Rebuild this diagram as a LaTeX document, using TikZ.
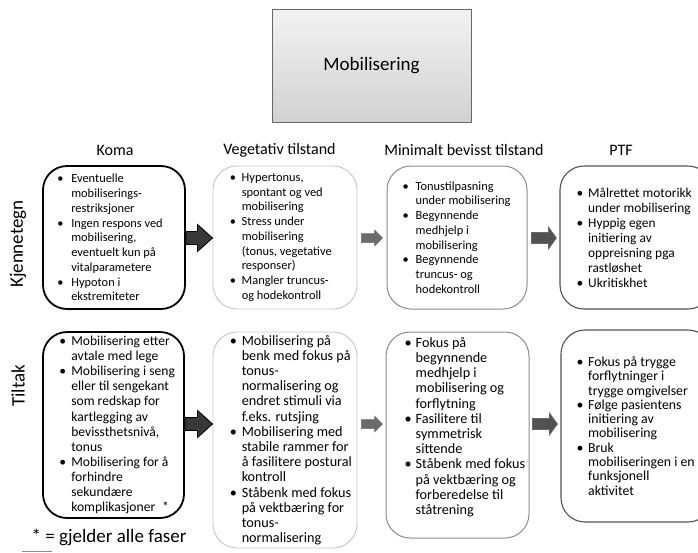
\documentclass[tikz,border=0pt]{standalone}
\usepackage{fontspec}
\setmainfont{Carlito}
\usetikzlibrary{calc}

% indent between a bullet and its text
\newlength\bulind
\newcommand\bul[1]{\makebox[\bulind][l]{\textbullet}\mbox{#1}}
\newcommand\cnt[1]{\hspace*{\bulind}\mbox{#1}}

% block arrow: style, tail, tip, shaft half-width, head half-width, head length
\newcommand\blockarrow[6]{%
  \path[#1] let \p1=#2, \p2=#3 in
    (\x1,\y1+#4) -- (\x2-#6,\y1+#4) -- (\x2-#6,\y1+#5) -- (\x2,\y1)
    -- (\x2-#6,\y1-#5) -- (\x2-#6,\y1-#4) -- (\x1,\y1-#4) -- cycle;}

\tikzset{
  phase/.style={rounded corners=24pt, fill=white, inner sep=0pt},
  koma/.style={phase, draw=black, line width=1.8pt},
  veg/.style={phase, draw=black!22, line width=0.9pt},
  mbt/.style={phase, draw=black!45, line width=1pt},
  ptf/.style={phase, draw=black!68, line width=1.1pt},
  size/.style 2 args={minimum width=#1, minimum height=#2},
  txt/.style={align=left, inner sep=0pt, anchor=west},
  ind/.style={execute at begin node={\setlength\bulind{#1}}},
  small/.style={font=\fontsize{12.4}{14.75}\selectfont},
  large/.style={font=\fontsize{14.2}{15.2}\selectfont},
  head/.style={font=\fontsize{16}{19}\selectfont},
  rowlab/.style={rotate=90, font=\fontsize{19}{22}\selectfont},
  titlebox/.style={draw=black!60, line width=0.8pt, top color=black!5, bottom color=black!18,
    font=\fontsize{19}{22}\selectfont},
  bigarrow/.style={fill=black!78, draw=black, line width=0.8pt},
  thinarrow/.style={fill=black!58, draw=black!55, line width=0.5pt},
  midarrow/.style={fill=black!68, draw=black!60, line width=0.6pt},
}

\begin{document}
\begin{tikzpicture}[x=1pt, y=-1pt]
\useasboundingbox (0,0) rectangle (698,552);

% title
\node[titlebox, minimum width=199pt, minimum height=113pt] (title) at (371.5,65.5) {Mobilisering};

% column headings
\node[head] (hk) at (115,150) {Koma};
\node[head] (hv) at (279.5,150) {Vegetativ tilstand};
\node[head] (hm) at (464,150) {Minimalt bevisst tilstand};
\node[head] (hp) at (621,150) {PTF};

% row headings
\node[rowlab] (lk) at (18,244) {Kjennetegn};
\node[rowlab] (lt) at (18,386) {Tiltak};

% arrow rows
\coordinate (r1) at (0,238);
\coordinate (r2) at (0,424);

% phase boxes
\node[koma, size={142pt}{143pt}] (k1) at (114,237.5) {};
\node[veg,  size={144pt}{143pt}] (v1) at (285,237.5) {};
\node[mbt,  size={140pt}{143pt}] (m1) at (457,237.5) {};
\node[ptf,  size={152pt}{143pt}] (p1) at (636,237.5) {};

\node[koma, size={141pt}{186pt}] (k2) at (113.5,425) {};
\node[veg,  size={144pt}{216pt}] (v2) at (285,440) {};
\node[mbt,  size={143pt}{206pt}] (m2) at (457.5,435) {};
\node[ptf,  size={151pt}{192pt}] (p2) at (636.5,426) {};

% first row: Kjennetegn
\node[txt, small, ind=14pt] (k1t) at ($(k1.west)+(15,0)$) {%
\bul{Eventuelle}\\
\cnt{mobiliserings-}\\
\cnt{restriksjoner}\\
\bul{Ingen respons ved}\\
\cnt{mobilisering,}\\
\cnt{eventuelt kun på}\\
\cnt{vitalparametere}\\
\bul{Hypoton i}\\
\cnt{ekstremiteter}};

\node[txt, small, ind=12pt] (v1t) at ($(v1.west)+(17,0)$) {%
\bul{Hypertonus,}\\
\cnt{spontant og ved}\\
\cnt{mobilisering}\\
\bul{Stress under}\\
\cnt{mobilisering}\\
\cnt{(tonus, vegetative}\\
\cnt{responser)}\\
\bul{Mangler truncus-}\\
\cnt{og hodekontroll}};

\node[txt, small, ind=13pt] (m1t) at ($(m1.west)+(16,0)$) {%
\bul{Tonustilpasning}\\
\cnt{under mobilisering}\\
\bul{Begynnende}\\
\cnt{medhjelp i}\\
\cnt{mobilisering}\\
\bul{Begynnende}\\
\cnt{truncus- og}\\
\cnt{hodekontroll}};

\node[txt, font=\fontsize{13.4}{15}\selectfont, ind=11.5pt] (p1t) at ($(p1.west)+(17,0)$) {%
\bul{Målrettet motorikk}\\
\cnt{under mobilisering}\\
\bul{Hyppig egen}\\
\cnt{initiering av}\\
\cnt{oppreisning pga}\\
\cnt{rastløshet}\\
\bul{Ukritiskhet}};

% second row: Tiltak
\node[txt, font=\fontsize{13.6}{15.1}\selectfont, ind=12pt] (k2t) at ($(k2.west)+(17,0)$) {%
\bul{Mobilisering etter}\\
\cnt{avtale med lege}\\
\bul{Mobilisering i seng}\\
\cnt{eller til sengekant}\\
\cnt{som redskap for}\\
\cnt{kartlegging av}\\
\cnt{bevissthetsnivå,}\\
\cnt{tonus}\\
\bul{Mobilisering for å}\\
\cnt{forhindre}\\
\cnt{sekundære}\\
\cnt{komplikasjoner\enspace*}};

\node[txt, large, ind=12pt] (v2t) at ($(v2.west)+(17,0)$) {%
\bul{Mobilisering på}\\
\cnt{benk med fokus på}\\
\cnt{tonus-}\\
\cnt{normalisering og}\\
\cnt{endret stimuli via}\\
\cnt{f.eks. rutsjing}\\
\bul{Mobilisering med}\\
\cnt{stabile rammer for}\\
\cnt{å fasilitere postural}\\
\cnt{kontroll}\\
\bul{Ståbenk med fokus}\\
\cnt{på vektbæring for}\\
\cnt{tonus-}\\
\cnt{normalisering}};

\node[txt, large, ind=11pt] (m2t) at ($(m2.west)+(19,-8)$) {%
\bul{Fokus på}\\
\cnt{begynnende}\\
\cnt{medhjelp i}\\
\cnt{mobilisering og}\\
\cnt{forflytning}\\
\bul{Fasilitere til}\\
\cnt{symmetrisk}\\
\cnt{sittende}\\
\bul{Ståbenk med fokus}\\
\cnt{på vektbæring og}\\
\cnt{forberedelse til}\\
\cnt{ståtrening}};

\node[txt, font=\fontsize{13.8}{14.3}\selectfont, ind=11.5pt] (p2t) at ($(p2.west)+(16,0)$) {%
\bul{Fokus på trygge}\\
\cnt{forflytninger i}\\
\cnt{trygge omgivelser}\\
\bul{Følge pasientens}\\
\cnt{initiering av}\\
\cnt{mobilisering}\\
\bul{Bruk}\\
\cnt{mobiliseringen i en}\\
\cnt{funksjonell}\\
\cnt{aktivitet}};

% block arrows between phases
\blockarrow{bigarrow}{(k1.east |- r1)}{(v1.west |- r1)}{6.5pt}{13.5pt}{15pt}
\blockarrow{thinarrow}{($(v1.east |- r1)+(4,0)$)}{($(m1.west |- r1)+(-4,0)$)}{4.5pt}{8pt}{8pt}
\blockarrow{midarrow}{($(m1.east |- r1)+(4,0)$)}{($(p1.west |- r1)+(-3,0)$)}{5.5pt}{11pt}{8pt}

\blockarrow{bigarrow}{(k2.east |- r2)}{(v2.west |- r2)}{6.5pt}{13.5pt}{15pt}
\blockarrow{thinarrow}{($(v2.east |- r2)+(4,0)$)}{($(m2.west |- r2)+(-3,0)$)}{4.5pt}{8pt}{8pt}
\blockarrow{midarrow}{($(m2.east |- r2)+(3,0)$)}{($(p2.west |- r2)+(-3,0)$)}{5.5pt}{11pt}{8pt}

% footnote
\node[font=\fontsize{19}{22}\selectfont] (fn) at (109,537) {* = gjelder alle faser};
\draw[black!45, line width=0.8pt] (22,551) -- (52,551);
\end{tikzpicture}
\end{document}
